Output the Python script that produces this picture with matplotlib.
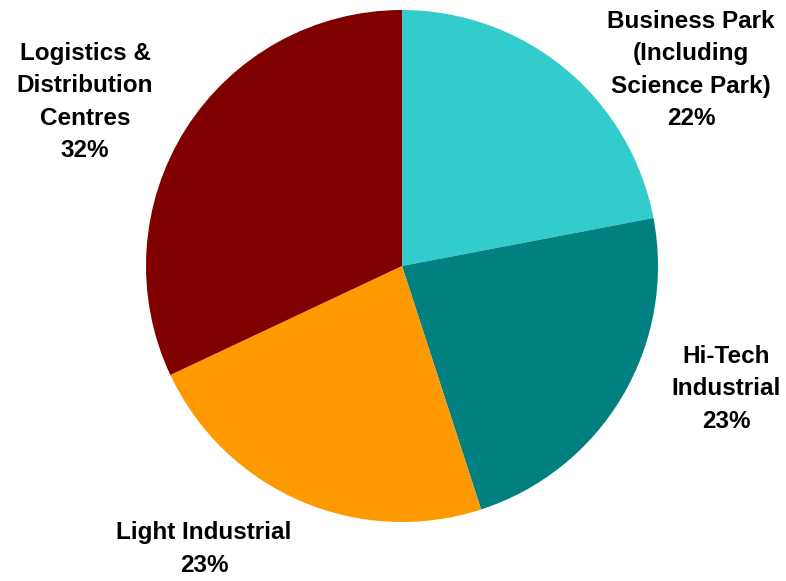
import matplotlib
matplotlib.use("Agg")
import matplotlib.pyplot as plt

# Share of stock by property type
labels = ["Business Park\n(Including\nScience Park)", "Hi-Tech\nIndustrial",
          "Light Industrial", "Logistics &\nDistribution\nCentres"]
shares = [22, 23, 23, 32]
colors = ["#33CCCC", "#008080", "#FF9900", "#800000"]

# where each label block sits (data units, pie radius = 1)
label_pos = [(1.129, 0.766), (1.266, -0.480), (-0.773, -1.105), (-1.238, 0.641)]

plt.rcParams['font.family'] = ['Liberation Sans', 'DejaVu Sans']

fig = plt.figure(figsize=(7.86, 5.81), dpi=100)
ax = fig.add_axes([0, 0, 1, 1])

ax.pie(shares, colors=colors, startangle=90, counterclock=False,
       radius=1, center=(0, 0), wedgeprops=dict(linewidth=0))

for lab, val, (x, y) in zip(labels, shares, label_pos):
    ax.text(x, y, f"{lab}\n{val}%", ha="center", va="center",
            fontsize=17.5, fontweight="bold", linespacing=1.52)

ax.set_xlim(-402 / 256, 384 / 256)
ax.set_ylim(-315 / 256, 266 / 256)
ax.set_aspect("equal")
ax.axis("off")

fig.savefig("out.png", dpi=100)
